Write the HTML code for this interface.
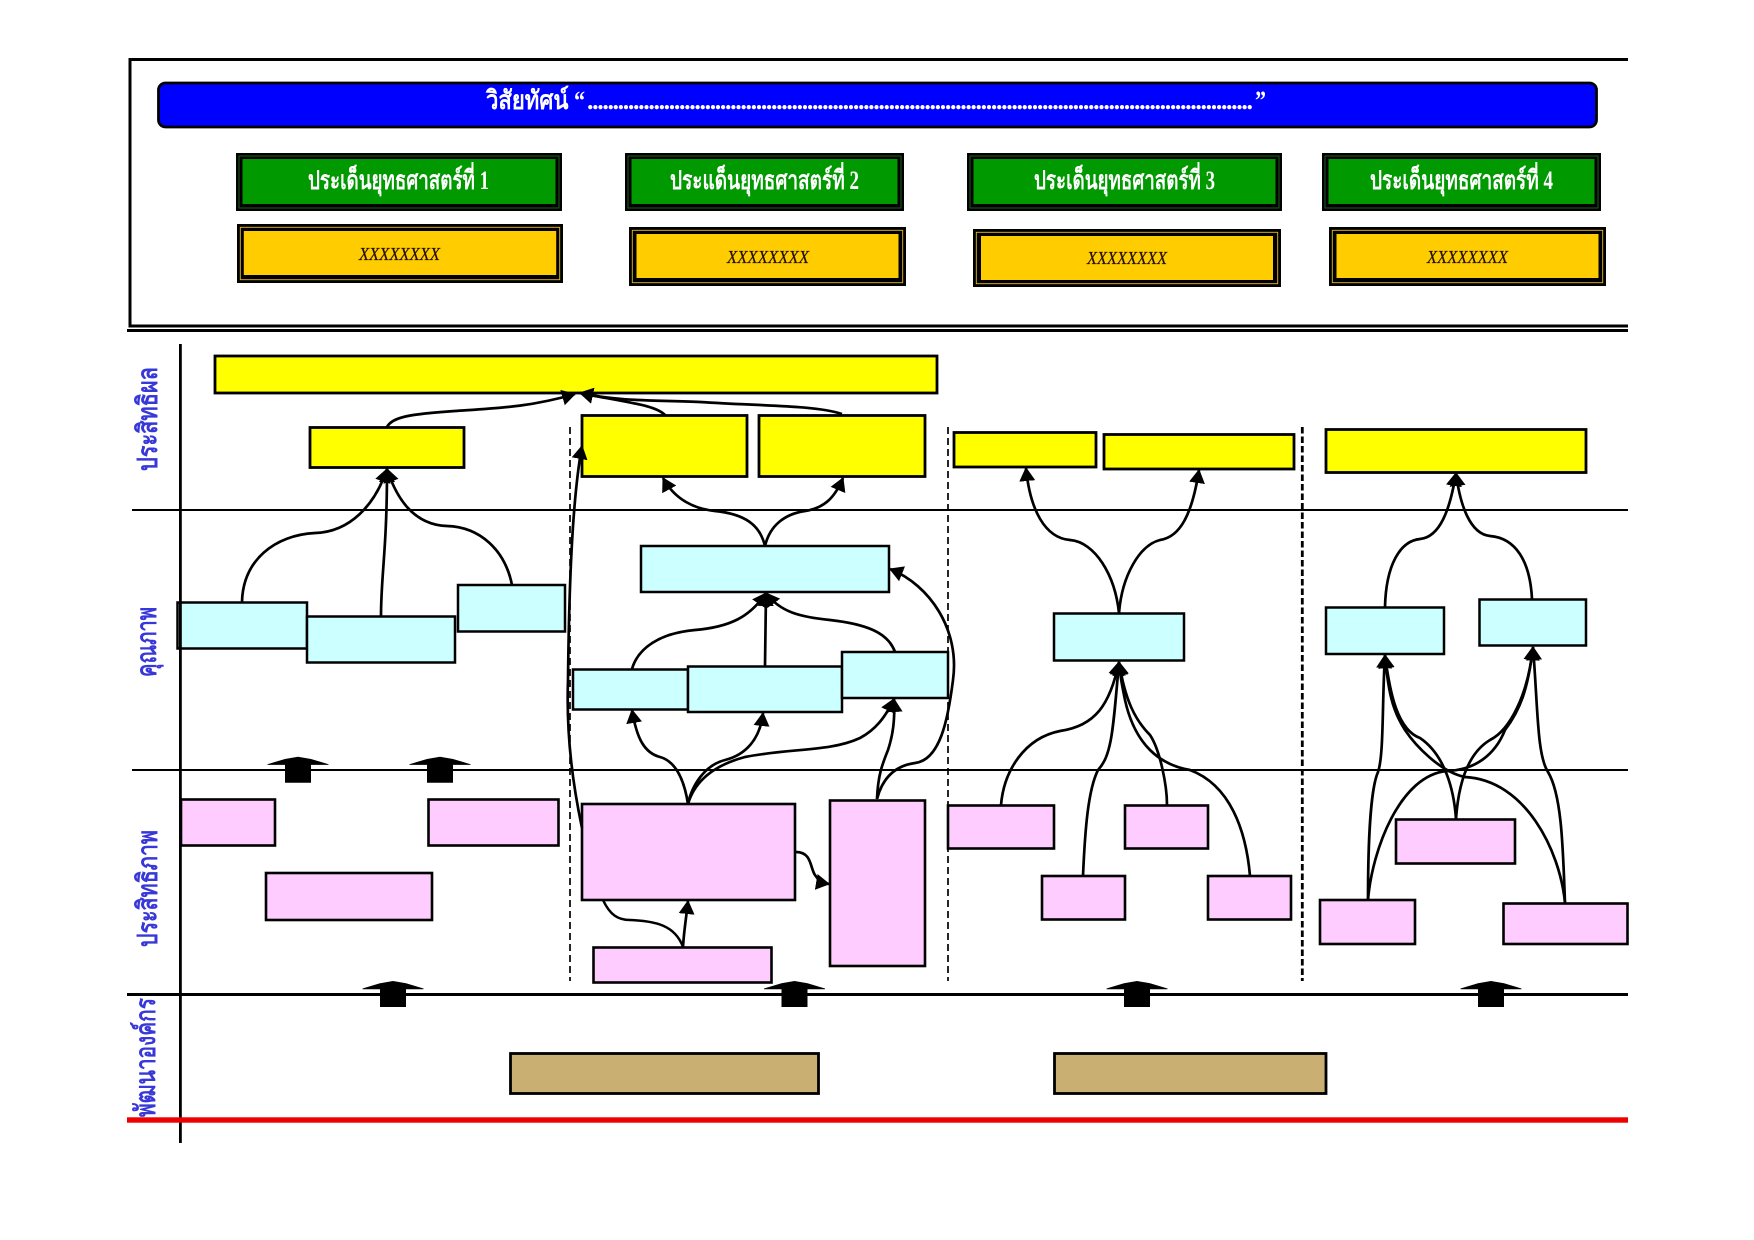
<!DOCTYPE html>
<html lang="th"><head><meta charset="utf-8"><title>Strategy map</title>
<style>
html,body{margin:0;padding:0;background:#fff}
svg{display:block}
text{font-family:"Liberation Serif","Noto Serif CJK SC","WenQuanYi Zen Hei",serif}
.t{font-weight:bold;fill:#fff;font-size:26px}
.x{font-style:italic;fill:#221100;font-size:18px;stroke:#221100;stroke-width:.2}
.s{font-weight:bold;fill:#3838D8;font-size:28px}
.y{fill:#FFFF00;stroke:#000;stroke-width:2.8}
.c{fill:#CCFFFF;stroke:#000;stroke-width:2.5}
.p{fill:#FFCCFF;stroke:#000;stroke-width:2.6}
.b{fill:#C9AF71;stroke:#000;stroke-width:2.8}
.g{fill:none;stroke:#1F6B1F;stroke-width:.9}
.o{fill:none;stroke:#E8B820;stroke-width:.9}
.l path{fill:none;stroke:#000;stroke-width:2.7;marker-end:url(#h)}
.n path{fill:none;stroke:#000;stroke-width:2.5}
</style></head><body>
<svg xmlns="http://www.w3.org/2000/svg" width="1754" height="1240" viewBox="0 0 1754 1240">
<defs>
<marker id="h" markerUnits="userSpaceOnUse" markerWidth="14" markerHeight="16" refX="13" refY="8" orient="auto" viewBox="0 0 14 16"><path d="M0 0L14 8L0 16Z" fill="#000"/></marker>
<path id="a" d="M-30.5 7.5L-13 2.3L0 0L13 2.3L30.5 7.5L30.5 8.2L13 8.2V26H-13V8.2L-30.5 8.2Z" fill="#000"/>
</defs>
<rect width="1754" height="1240" fill="#fff"/>

<!-- frame -->
<path d="M1628 59.5H130V326H1628" fill="none" stroke="#000" stroke-width="3"/>
<rect x="127" y="329" width="1501" height="3" fill="#000"/>

<!-- vision -->
<rect x="158.5" y="83" width="1438" height="44" rx="7" fill="#0000FF" stroke="#000" stroke-width="2.8"/>
<text class="t" x="486" y="109" font-size="28" textLength="99" lengthAdjust="spacingAndGlyphs">วิสัยทัศน์ “</text>
<text class="t" x="587" y="109" textLength="666" lengthAdjust="spacing">..................................................................................................................................</text>
<text class="t" x="1255" y="109" textLength="11" lengthAdjust="spacingAndGlyphs">”</text>

<!-- green -->
<rect x="236" y="153" width="326" height="58" fill="#000"/><rect class="g" x="239" y="156" width="320" height="52"/><rect x="242.5" y="159" width="313" height="45" fill="#009900"/>
<rect x="625" y="153" width="279" height="58" fill="#000"/><rect class="g" x="628" y="156" width="273" height="52"/><rect x="631.5" y="159" width="266" height="45" fill="#009900"/>
<rect x="967" y="153" width="315" height="58" fill="#000"/><rect class="g" x="970" y="156" width="309" height="52"/><rect x="973.5" y="159" width="302" height="45" fill="#009900"/>
<rect x="1322" y="153" width="279" height="58" fill="#000"/><rect class="g" x="1325" y="156" width="273" height="52"/><rect x="1328.5" y="159" width="266" height="45" fill="#009900"/>
<text class="t" x="308" y="189" textLength="181" lengthAdjust="spacingAndGlyphs">ประเด็นยุทธศาสตร์ที่ 1</text>
<text class="t" x="670" y="189" textLength="189" lengthAdjust="spacingAndGlyphs">ประแด็นยุทธศาสตร์ที่ 2</text>
<text class="t" x="1034" y="189" textLength="181" lengthAdjust="spacingAndGlyphs">ประเด็นยุทธศาสตร์ที่ 3</text>
<text class="t" x="1370" y="189" textLength="183" lengthAdjust="spacingAndGlyphs">ประเด็นยุทธศาสตร์ที่ 4</text>

<!-- orange -->
<rect x="237" y="224" width="326" height="59" fill="#000"/><rect class="o" x="240.3" y="227.3" width="319.4" height="52.4"/><rect x="243.8" y="231" width="312.4" height="44" fill="#FFCC00"/>
<rect x="629" y="227" width="277" height="59" fill="#000"/><rect class="o" x="632.3" y="230.3" width="270.4" height="52.4"/><rect x="636.5" y="234" width="262" height="44" fill="#FFCC00"/>
<rect x="973" y="229" width="308" height="58" fill="#000"/><rect class="o" x="976.3" y="232.3" width="301.4" height="51.4"/><rect x="981" y="236" width="292" height="44" fill="#FFCC00"/>
<rect x="1329" y="227" width="277" height="59" fill="#000"/><rect class="o" x="1332.3" y="230.3" width="270.4" height="52.4"/><rect x="1336.5" y="234" width="262" height="44" fill="#FFCC00"/>
<text class="x" x="359" y="260" textLength="81" lengthAdjust="spacingAndGlyphs">XXXXXXXX</text>
<text class="x" x="727" y="263" textLength="82" lengthAdjust="spacingAndGlyphs">XXXXXXXX</text>
<text class="x" x="1087" y="264" textLength="80" lengthAdjust="spacingAndGlyphs">XXXXXXXX</text>
<text class="x" x="1427" y="263" textLength="81" lengthAdjust="spacingAndGlyphs">XXXXXXXX</text>

<!-- grid lines -->
<rect x="132" y="509" width="1496" height="2" fill="#000"/>
<rect x="132" y="769" width="1496" height="2" fill="#000"/>
<rect x="127" y="993" width="1501" height="3" fill="#000"/>
<path d="M570 427V981M948 427V981" stroke="#000" stroke-width="1.7" stroke-dasharray="7 4" fill="none"/>
<path d="M1302.3 427V981" stroke="#000" stroke-width="2.8" stroke-dasharray="6.5 3" fill="none"/>

<!-- yellow -->
<rect class="y" x="215" y="356" width="722" height="37"/>
<rect class="y" x="310" y="427.5" width="154" height="40"/>
<rect class="y" x="582" y="415.5" width="165" height="61"/>
<rect class="y" x="759" y="415.5" width="166" height="61"/>
<rect class="y" x="954" y="432.5" width="142" height="34.5"/>
<rect class="y" x="1104" y="434.5" width="190" height="34.5"/>
<rect class="y" x="1326" y="429.5" width="260" height="43"/>

<!-- cyan -->
<rect class="c" x="177.5" y="602.5" width="129.5" height="46"/>
<rect class="c" x="307" y="616.5" width="148" height="46"/>
<rect class="c" x="458" y="585" width="107" height="46.5"/>
<rect class="c" x="641" y="546" width="248" height="46"/>
<rect class="c" x="573" y="669.5" width="115" height="40"/>
<rect class="c" x="688" y="666.5" width="154" height="45.5"/>
<rect class="c" x="842" y="652" width="106" height="46"/>
<rect class="c" x="1054" y="613.5" width="130" height="47"/>
<rect class="c" x="1326" y="607.5" width="118" height="46.5"/>
<rect class="c" x="1479.5" y="599.5" width="106.5" height="46"/>

<!-- pink -->
<rect class="p" x="181" y="799.5" width="94" height="46"/>
<rect class="p" x="428.5" y="799.5" width="130" height="46"/>
<rect class="p" x="266" y="873" width="166" height="47"/>
<rect class="p" x="582" y="804" width="213" height="96"/>
<rect class="p" x="593.5" y="947.5" width="178" height="35"/>
<rect class="p" x="830" y="800.5" width="95" height="165.5"/>
<rect class="p" x="948" y="805.5" width="106" height="43"/>
<rect class="p" x="1125" y="805.5" width="83" height="43"/>
<rect class="p" x="1042" y="876" width="83" height="43.5"/>
<rect class="p" x="1208" y="876" width="83" height="43.5"/>
<rect class="p" x="1320" y="900" width="95" height="44"/>
<rect class="p" x="1396" y="819.5" width="119" height="44"/>
<rect class="p" x="1503.5" y="903.5" width="124" height="40.5"/>

<!-- tan -->
<rect class="b" x="510.5" y="1053.5" width="308" height="40"/>
<rect class="b" x="1054.5" y="1053.5" width="271.5" height="40"/>

<!-- block arrows -->
<use href="#a" x="298" y="756.7"/>
<use href="#a" x="440" y="756.7"/>
<use href="#a" x="393" y="981"/>
<use href="#a" x="794.5" y="981"/>
<use href="#a" x="1137" y="981"/>
<use href="#a" x="1491" y="981"/>

<!-- connectors with head -->
<g class="l">
<path d="M242 602C243 560 275 535 315 533C350 532 375 505 387 469"/>
<path d="M381 616C381 575 387 550 387 469"/>
<path d="M512 585C505 550 480 527 447 526C415 525 397 500 387 469"/>
<path d="M387 427C392 417 410 414 455 411C500 408 530 407 575 394"/>
<path d="M665 415C655 405 630 403 580 393"/>
<path d="M842 414C815 405 760 406 700 402C660 400 620 402 580 393"/>
<path d="M582 828C574 790 566 740 568 680C569 590 572 500 582 446"/>
<path d="M765 546C760 525 745 514 715 511C695 509 675 500 663 478"/>
<path d="M765 546C770 525 785 514 805 511C825 508 835 497 843 478"/>
<path d="M632 669C638 648 660 633 695 630C730 627 750 617 766 593"/>
<path d="M765 666L766 593"/>
<path d="M895 652C888 632 865 624 830 620C800 617 780 612 766 593"/>
<path d="M877 799C882 780 893 766 915 763C940 760 948 720 953 680C960 630 930 585 890 569"/>
<path d="M877 799C878 775 882 765 888 750C893 735 895 720 894 699"/>
<path d="M688 804C685 785 678 762 660 757C645 753 637 740 632 710"/>
<path d="M688 804C692 785 705 765 725 760C745 755 760 740 763 713"/>
<path d="M688 804C695 780 715 765 745 757C790 748 830 752 860 738C875 730 885 718 894 699"/>
<path d="M796 852C812 852 810 868 815 875C819 881 823 883 829 884"/>
<path d="M683 947C684 930 686 920 688 901"/>
<path d="M1119 613C1115 575 1095 542 1070 540C1045 538 1030 510 1026 468"/>
<path d="M1119 613C1122 575 1140 545 1160 540C1180 537 1192 515 1199 470"/>
<path d="M1001 805C1004 770 1025 738 1060 731C1095 726 1110 705 1119 662"/>
<path d="M1083 876C1085 830 1088 790 1098 770C1112 755 1113 730 1119 662"/>
<path d="M1167 805C1167 785 1160 750 1150 735C1135 720 1125 700 1119 662"/>
<path d="M1250 876C1246 830 1230 785 1190 770C1160 765 1135 745 1125 700C1122 685 1120 675 1119 662"/>
<path d="M1385 607C1386 565 1400 541 1420 539C1440 537 1450 510 1456 473"/>
<path d="M1532 599C1530 560 1515 538 1490 536C1470 534 1460 505 1456 473"/>
<path d="M1368 900C1368 850 1370 790 1378 772C1384 755 1382 700 1385 655"/>
<path d="M1368 900C1372 850 1400 775 1447 771C1475 770 1495 755 1505 730C1520 710 1528 690 1533 647"/>
<path d="M1565 903C1563 850 1562 795 1548 772C1537 755 1538 710 1533 647"/>
<path d="M1565 903C1560 850 1525 780 1465 777C1440 772 1415 745 1405 730C1392 710 1388 690 1385 655"/>
<path d="M1456 819C1454 790 1445 755 1420 738C1398 730 1390 695 1385 655"/>
<path d="M1456 819C1458 790 1465 755 1490 740C1510 730 1528 695 1533 647"/>
</g>
<g class="n">
<path d="M603 900C610 915 618 920 630 920C655 921 675 925 683 947"/>
</g>

<!-- axis and red line -->
<rect x="179" y="344" width="2.8" height="799" fill="#000"/>
<rect x="127" y="1117.3" width="1501" height="5.4" fill="#EE0000"/>

<!-- side labels -->
<text class="s" transform="translate(157,471) rotate(-90)" textLength="104" lengthAdjust="spacingAndGlyphs">ประสิทธิผล</text>
<text class="s" transform="translate(156,677) rotate(-90)" textLength="70" lengthAdjust="spacingAndGlyphs">คุณภาพ</text>
<text class="s" transform="translate(157,947) rotate(-90)" textLength="117" lengthAdjust="spacingAndGlyphs">ประสิทธิภาพ</text>
<text class="s" transform="translate(155,1117) rotate(-90)" textLength="119" lengthAdjust="spacingAndGlyphs">พัฒนาองค์กร</text>
</svg>
</body></html>
